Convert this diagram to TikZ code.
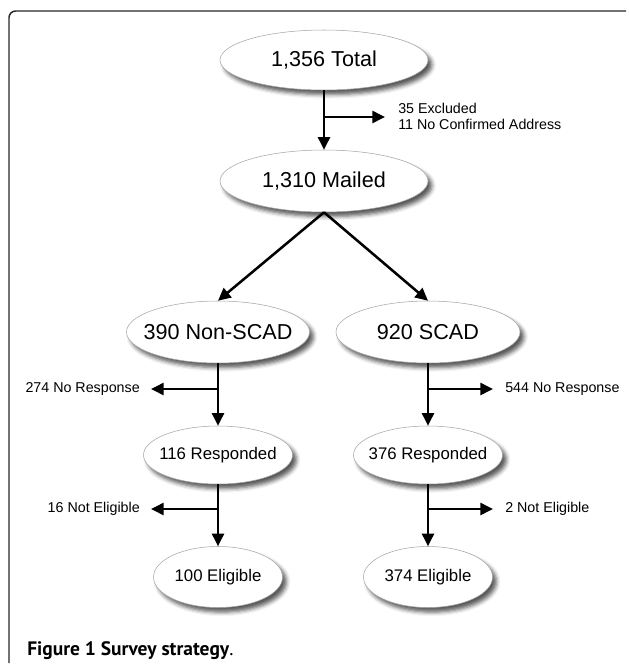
\documentclass[tikz,border=0pt]{standalone}
\usepackage{fontspec}
\setmainfont{Liberation Sans}
\newfontfamily\capfont{PT Sans}
\usetikzlibrary{shapes.geometric,arrows.meta,shadows.blur}
\newcommand\ovtext[1]{\makebox[0pt][c]{#1}}
\begin{document}
\begin{tikzpicture}[x=0.75pt,y=-0.75pt,
  ov/.style={ellipse, draw=black!35, line width=0.4pt, fill=white, inner sep=0pt,
    blur shadow={shadow xshift=3pt, shadow yshift=-3.5pt, shadow blur radius=3pt, shadow opacity=65}},
  big/.style={font=\fontsize{16.2}{19}\selectfont},
  mid/.style={font=\fontsize{12.6}{15}\selectfont},
  side/.style={font=\fontsize{10.7}{12}\selectfont, inner sep=0pt},
  flow/.style={line width=1.9pt, -{Triangle[length=9.5pt,width=9pt]}},
  frame/.style={line width=1.1pt, draw=black!85, rounded corners=5pt}]
\useasboundingbox (0,0) rectangle (629,665);
\draw[frame] (626,11) -- (9,11) -- (9,663);

\node[ov,big,minimum width=156pt,minimum height=45pt] (tot) at (324,60) {\ovtext{1,356 Total}};
\node[ov,big,minimum width=156pt,minimum height=46.5pt] (mai) at (324,181) {\ovtext{1,310 Mailed}};
\node[ov,big,minimum width=137.25pt,minimum height=46.5pt] (ns) at (218,332) {\ovtext{390 Non-SCAD}};
\node[ov,big,minimum width=138pt,minimum height=46.5pt] (sc) at (428,332) {\ovtext{920 SCAD}};
\node[ov,mid,minimum width=111.75pt,minimum height=43.5pt] (nr) at (218,455) {\ovtext{116 Responded}};
\node[ov,mid,minimum width=111.75pt,minimum height=43.5pt] (sr) at (428,455) {\ovtext{376 Responded}};
\node[ov,mid,minimum width=96.75pt,minimum height=45.75pt] (ne) at (218,577) {\ovtext{100 Eligible}};
\node[ov,mid,minimum width=96.75pt,minimum height=45.75pt] (se) at (428,577) {\ovtext{374 Eligible}};

\node[side,anchor=west,align=left] (exc) at (398,116) {35 Excluded\\11 No Confirmed Address};
\node[side,anchor=east] (nnr) at (140,389) {274 No Response};
\node[side,anchor=west] (snr) at (505,389) {544 No Response};
\node[side,anchor=east] (nne) at (140,509) {16 Not Eligible};
\node[side,anchor=west] (sne) at (505,509) {2 Not Eligible};

\coordinate (b0) at (324,117); \coordinate (e0) at (385,117);
\coordinate (b1) at (218,389); \coordinate (e1) at (151,389);
\coordinate (b2) at (428,389); \coordinate (e2) at (493,389);
\coordinate (b3) at (218,509); \coordinate (e3) at (151,509);
\coordinate (b4) at (428,509); \coordinate (e4) at (493,509);

\draw[flow] (tot) -- (mai);
\draw[flow] (b0) -- (e0);
\draw[flow] (mai.south) -- (ns.north);
\draw[flow] (mai.south) -- (sc.north);
\draw[flow] (ns) -- (nr);
\draw[flow] (sc) -- (sr);
\draw[flow] (b1) -- (e1);
\draw[flow] (b2) -- (e2);
\draw[flow] (nr) -- (ne);
\draw[flow] (sr) -- (se);
\draw[flow] (b3) -- (e3);
\draw[flow] (b4) -- (e4);

\node[anchor=base west,inner sep=0pt,font=\capfont\fontsize{14.6}{16}\selectfont] (cap) at (27,655) {\textbf{Figure 1 Survey strategy}.};
\end{tikzpicture}
\end{document}
